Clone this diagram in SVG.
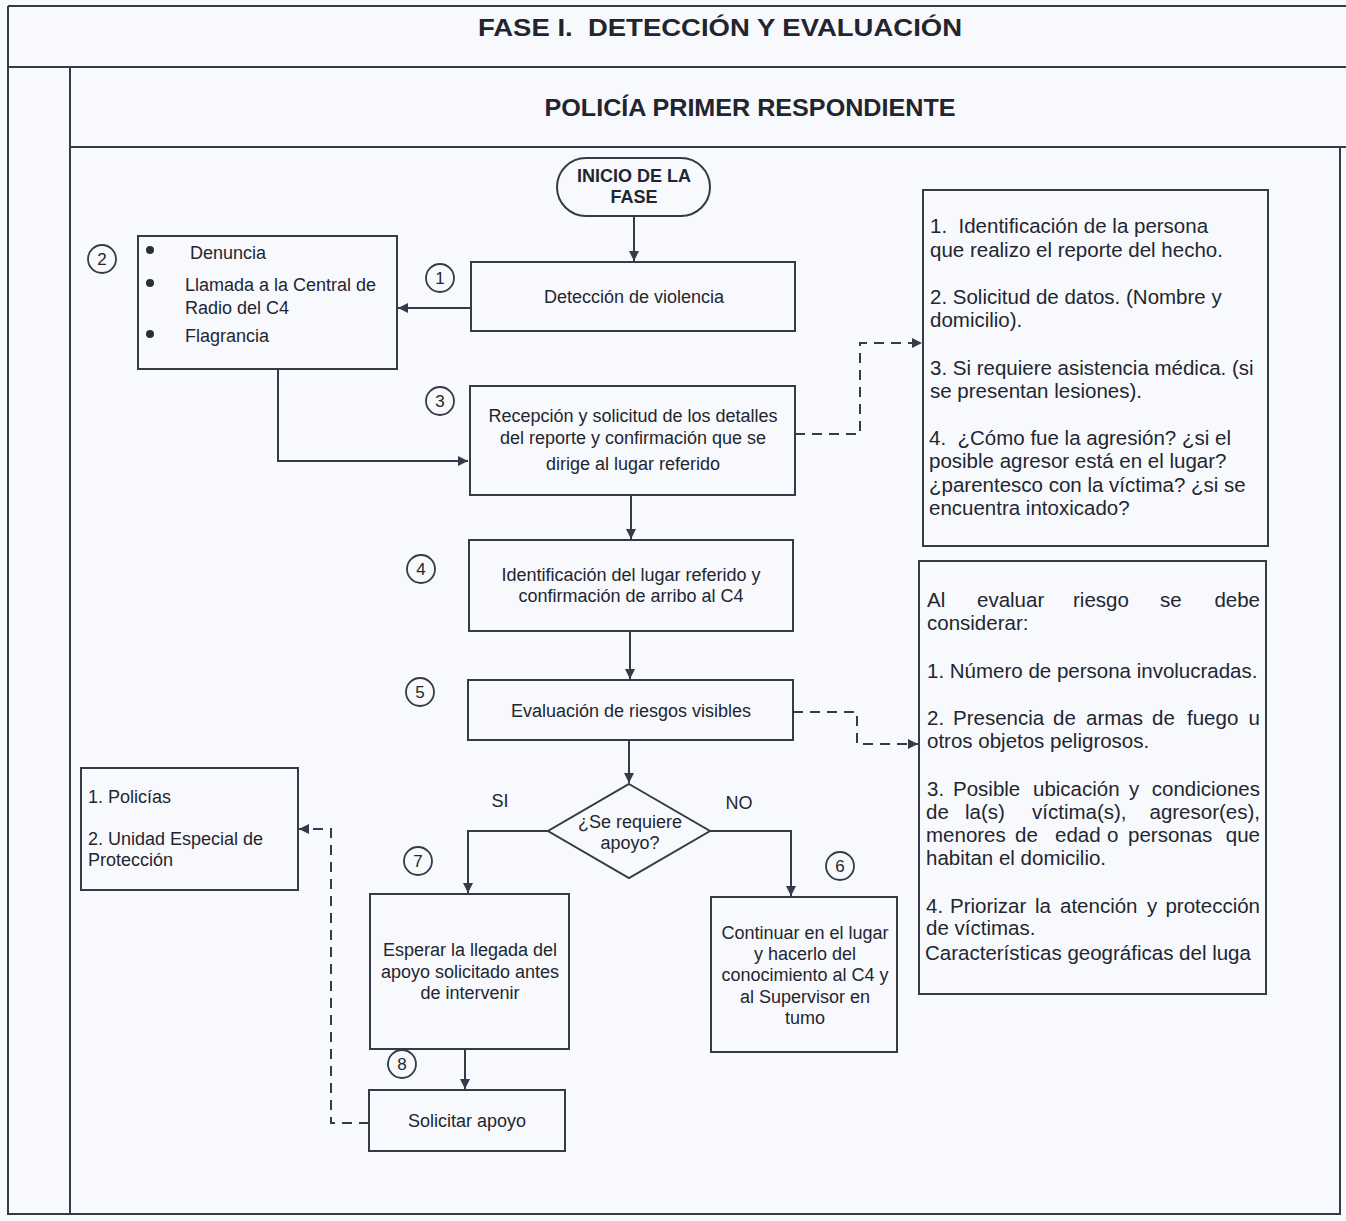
<svg xmlns="http://www.w3.org/2000/svg" width="1346" height="1221" viewBox="0 0 1346 1221">
<style>
.frame{fill:none;stroke:#353a48;stroke-width:2}
.box{fill:none;stroke:#353a48;stroke-width:2}
.ln{fill:none;stroke:#353a48;stroke-width:2}
.dash{fill:none;stroke:#353a48;stroke-width:2;stroke-dasharray:10 7}
.t{font-family:"Liberation Sans",Arial,sans-serif;font-size:18px;fill:#222630}
.c{text-anchor:middle}
.b{font-weight:bold}
.r{font-family:"Liberation Sans",Arial,sans-serif;font-size:20.5px;fill:#222630}
.h{font-family:"Liberation Sans",Arial,sans-serif;font-size:23px;font-weight:bold;fill:#22252e;text-anchor:middle}
.num{fill:none;stroke:#353a48;stroke-width:1.8}
.n{font-family:"Liberation Sans",Arial,sans-serif;font-size:17px;fill:#222630;text-anchor:middle}
.dot{fill:#2a2e38}
</style>
<defs>
<marker id="arr" viewBox="0 0 10 10" refX="10" refY="5" markerWidth="10" markerHeight="10" markerUnits="userSpaceOnUse" orient="auto">
<path d="M0,0 L10,5 L0,10 z" fill="#353a48"/>
</marker>
</defs>
<rect x="0" y="0" width="1346" height="1221" fill="#f8f9fd"/>
<g id="frame">
<path class="frame" d="M8,6 H1346 M8,6 V1214 H1340 V147 M8,67 H1346 M70,67 V1214 M70,147 H1346"/>
<text class="h" x="720" y="36" textLength="484" lengthAdjust="spacingAndGlyphs">FASE I.&#160; DETECCIÓN Y EVALUACIÓN</text>
<text class="h" x="750" y="116" textLength="411" lengthAdjust="spacingAndGlyphs">POLICÍA PRIMER RESPONDIENTE</text>
</g>
<g id="connectors">
<path class="ln" d="M634,216 V261" marker-end="url(#arr)"/>
<path class="ln" d="M471,308 H398" marker-end="url(#arr)"/>
<path class="ln" d="M278,369 V461 H468" marker-end="url(#arr)"/>
<path class="dash" d="M795,434 H860 V343 H922" marker-end="url(#arr)"/>
<path class="ln" d="M631,495 V539" marker-end="url(#arr)"/>
<path class="ln" d="M630,631 V679" marker-end="url(#arr)"/>
<path class="dash" d="M793,712 H857 V744 H918" marker-end="url(#arr)"/>
<path class="ln" d="M629,740 V783" marker-end="url(#arr)"/>
<path class="ln" d="M548,831 H468 V893" marker-end="url(#arr)"/>
<path class="ln" d="M710,831 H791 V896" marker-end="url(#arr)"/>
<path class="ln" d="M465,1049 V1089" marker-end="url(#arr)"/>
<path class="dash" d="M369,1123 H331 V829 H299" marker-end="url(#arr)"/>
<text class="t c" x="500" y="807">SI</text>
<text class="t c" x="739" y="809">NO</text>
</g>
<g id="n-inicio">
<rect class="box" x="557" y="158" width="153" height="58" rx="29" ry="29"/>
<text class="t c b" x="634" y="182">INICIO DE LA</text>
<text class="t c b" x="634" y="203">FASE</text>
</g>
<g id="n-deteccion">
<rect class="box" x="471" y="262" width="324" height="69"/>
<text class="t c" x="634" y="303">Detección de violencia</text>
</g>
<g id="n-fuentes">
<rect class="box" x="138" y="236" width="259" height="133"/>
<circle class="dot" cx="150" cy="250" r="4"/>
<circle class="dot" cx="150" cy="283" r="4"/>
<circle class="dot" cx="150" cy="334" r="4"/>
<text class="t" x="190" y="259">Denuncia</text>
<text class="t" x="185" y="291">Llamada a la Central de</text>
<text class="t" x="185" y="314">Radio del C4</text>
<text class="t" x="185" y="342">Flagrancia</text>
</g>
<g id="n-recepcion">
<rect class="box" x="470" y="386" width="325" height="109"/>
<text class="t c" x="633" y="422">Recepción y solicitud de los detalles</text>
<text class="t c" x="633" y="444">del reporte y confirmación que se</text>
<text class="t c" x="633" y="470">dirige al lugar referido</text>
</g>
<g id="n-datos">
<rect class="box" x="923" y="190" width="345" height="356"/>
<text class="r" x="930" y="233">1.&#160; Identificación de la persona</text>
<text class="r" x="930" y="257">que realizo el reporte del hecho.</text>
<text class="r" x="930" y="304">2. Solicitud de datos. (Nombre y</text>
<text class="r" x="930" y="327">domicilio).</text>
<text class="r" x="930" y="375">3. Si requiere asistencia médica. (si</text>
<text class="r" x="930" y="398">se presentan lesiones).</text>
<text class="r" x="929" y="445">4.&#160; ¿Cómo fue la agresión? ¿si el</text>
<text class="r" x="929" y="468">posible agresor está en el lugar?</text>
<text class="r" x="929" y="492">¿parentesco con la víctima? ¿si se</text>
<text class="r" x="929" y="515">encuentra intoxicado?</text>
</g>
<g id="n-identificacion">
<rect class="box" x="469" y="540" width="324" height="91"/>
<text class="t c" x="631" y="581">Identificación del lugar referido y</text>
<text class="t c" x="631" y="602">confirmación de arribo al C4</text>
</g>
<g id="n-evaluacion">
<rect class="box" x="468" y="680" width="325" height="60"/>
<text class="t c" x="631" y="717">Evaluación de riesgos visibles</text>
</g>
<g id="n-riesgo">
<rect class="box" x="919" y="561" width="347" height="433"/>
<text class="r" y="607"><tspan x="927">Al</tspan><tspan x="977">evaluar</tspan><tspan x="1073">riesgo</tspan><tspan x="1160">se</tspan><tspan x="1260" text-anchor="end">debe</tspan></text>
<text class="r" x="927" y="630">considerar:</text>
<text class="r" x="927" y="678">1. Número de persona involucradas.</text>
<text class="r" y="725"><tspan x="927">2.</tspan><tspan x="953">Presencia</tspan><tspan x="1053">de</tspan><tspan x="1086">armas</tspan><tspan x="1152">de</tspan><tspan x="1187">fuego</tspan><tspan x="1260" text-anchor="end">u</tspan></text>
<text class="r" x="927" y="748">otros objetos peligrosos.</text>
<text class="r" y="796"><tspan x="927">3.</tspan><tspan x="953">Posible</tspan><tspan x="1033">ubicación</tspan><tspan x="1129">y</tspan><tspan x="1260" text-anchor="end">condiciones</tspan></text>
<text class="r" y="819"><tspan x="926">de</tspan><tspan x="965">la(s)</tspan><tspan x="1032">víctima(s),</tspan><tspan x="1260" text-anchor="end">agresor(es),</tspan></text>
<text class="r" y="842"><tspan x="926">menores</tspan><tspan x="1015">de</tspan><tspan x="1055">edad</tspan><tspan x="1107">o</tspan><tspan x="1128">personas</tspan><tspan x="1260" text-anchor="end">que</tspan></text>
<text class="r" x="926" y="865">habitan el domicilio.</text>
<text class="r" y="913"><tspan x="926">4.</tspan><tspan x="950">Priorizar</tspan><tspan x="1035">la</tspan><tspan x="1060">atención</tspan><tspan x="1147">y</tspan><tspan x="1260" text-anchor="end">protección</tspan></text>
<text class="r" x="926" y="935">de víctimas.</text>
<text class="r" x="925" y="960">Características geográficas del luga</text>
</g>
<g id="n-decision">
<polygon class="box" points="629,784 710,831 629,878 548,831"/>
<text class="t c" x="630" y="828">¿Se requiere</text>
<text class="t c" x="630" y="849">apoyo?</text>
</g>
<g id="n-esperar">
<rect class="box" x="370" y="894" width="199" height="155"/>
<text class="t c" x="470" y="956">Esperar la llegada del</text>
<text class="t c" x="470" y="978">apoyo solicitado antes</text>
<text class="t c" x="470" y="999">de intervenir</text>
</g>
<g id="n-continuar">
<rect class="box" x="711" y="897" width="186" height="155"/>
<text class="t c" x="805" y="939">Continuar en el lugar</text>
<text class="t c" x="805" y="960">y hacerlo del</text>
<text class="t c" x="805" y="981">conocimiento al C4 y</text>
<text class="t c" x="805" y="1003">al Supervisor en</text>
<text class="t c" x="805" y="1024">tumo</text>
</g>
<g id="n-solicitar">
<rect class="box" x="369" y="1090" width="196" height="61"/>
<text class="t c" x="467" y="1127">Solicitar apoyo</text>
</g>
<g id="n-policias">
<rect class="box" x="81" y="768" width="217" height="122"/>
<text class="t" x="88" y="803">1. Policías</text>
<text class="t" x="88" y="845">2. Unidad Especial de</text>
<text class="t" x="88" y="866">Protección</text>
</g>
<g id="steps">
<circle class="num" cx="102" cy="259" r="14"/><text class="n" x="102" y="265">2</text>
<circle class="num" cx="440" cy="278" r="14"/><text class="n" x="440" y="284">1</text>
<circle class="num" cx="440" cy="401" r="14"/><text class="n" x="440" y="407">3</text>
<circle class="num" cx="421" cy="569" r="14"/><text class="n" x="421" y="575">4</text>
<circle class="num" cx="420" cy="692" r="14"/><text class="n" x="420" y="698">5</text>
<circle class="num" cx="418" cy="861" r="14"/><text class="n" x="418" y="867">7</text>
<circle class="num" cx="840" cy="866" r="14"/><text class="n" x="840" y="872">6</text>
<circle class="num" cx="402" cy="1064" r="14"/><text class="n" x="402" y="1070">8</text>
</g>
</svg>
